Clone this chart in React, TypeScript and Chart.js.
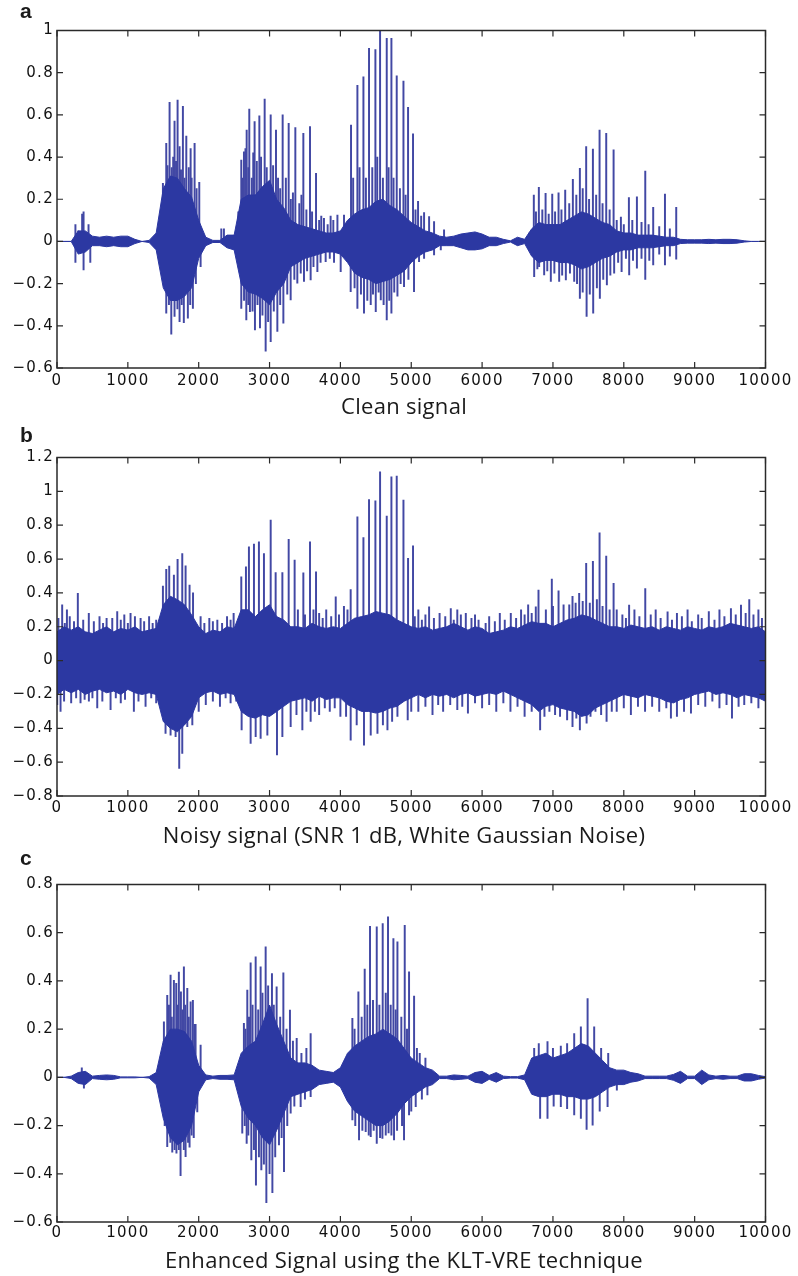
import React, { useEffect, useRef } from "react";
import { Chart, registerables } from "chart.js";

Chart.register(...registerables);

// ---------- shared sample grid (envelope bins, every 100 samples) ----------
const binSamples = [
  0, 100, 200, 300, 400, 500, 600, 700, 800, 900, 1000, 1100, 1200, 1300, 1400, 1500, 1600, 1700, 1800, 1900,
  2000, 2100, 2200, 2300, 2400, 2500, 2600, 2700, 2800, 2900, 3000, 3100, 3200, 3300, 3400, 3500, 3600, 3700, 3800, 3900,
  4000, 4100, 4200, 4300, 4400, 4500, 4600, 4700, 4800, 4900, 5000, 5100, 5200, 5300, 5400, 5500, 5600, 5700, 5800, 5900,
  6000, 6100, 6200, 6300, 6400, 6500, 6600, 6700, 6800, 6900, 7000, 7100, 7200, 7300, 7400, 7500, 7600, 7700, 7800, 7900,
  8000, 8100, 8200, 8300, 8400, 8500, 8600, 8700, 8800, 8900, 9000, 9100, 9200, 9300, 9400, 9500, 9600, 9700, 9800, 9900,
  10000,
];

// ---------- panel a: clean signal ----------
const cleanBodyHi = [
  0, 0, 0, 0.05, 0.05, 0.025, 0.02, 0.025, 0.02, 0.025, 0.025, 0.01, 0, 0.005, 0.04, 0.25, 0.31, 0.3, 0.25, 0.21,
  0.1, 0.02, 0.005, 0.005, 0.03, 0.03, 0.2, 0.22, 0.22, 0.26, 0.29, 0.2, 0.16, 0.1, 0.08, 0.07, 0.06, 0.05, 0.04, 0.04,
  0.05, 0.1, 0.13, 0.15, 0.16, 0.19, 0.2, 0.17, 0.15, 0.12, 0.09, 0.07, 0.05, 0.04, 0.025, 0.02, 0.025, 0.035, 0.04, 0.045,
  0.035, 0.02, 0.02, 0.01, 0.003, 0.02, 0.01, 0.06, 0.09, 0.08, 0.08, 0.08, 0.1, 0.12, 0.14, 0.13, 0.11, 0.09, 0.08, 0.05,
  0.04, 0.04, 0.03, 0.03, 0.03, 0.025, 0.02, 0.02, 0.01, 0.008, 0.008, 0.008, 0.01, 0.008, 0.01, 0.01, 0.008, 0.003, 0, 0,
  0,
];
const cleanBodyLo = [
  0, 0, 0, -0.06, -0.05, -0.02, -0.02, -0.025, -0.02, -0.025, -0.025, -0.01, 0, -0.005, -0.04, -0.22, -0.28, -0.28, -0.26, -0.22,
  -0.08, -0.02, -0.005, -0.005, -0.03, -0.04, -0.2, -0.24, -0.25, -0.27, -0.3, -0.24, -0.2, -0.12, -0.1, -0.08, -0.07, -0.06, -0.05, -0.05,
  -0.06, -0.1, -0.15, -0.17, -0.18, -0.2, -0.19, -0.18, -0.16, -0.14, -0.1, -0.07, -0.05, -0.04, -0.02, -0.02, -0.02, -0.03, -0.04, -0.04,
  -0.035, -0.02, -0.02, -0.01, -0.003, -0.02, -0.01, -0.07, -0.1, -0.09, -0.09, -0.1, -0.1, -0.11, -0.13, -0.12, -0.1, -0.08, -0.07, -0.05,
  -0.04, -0.04, -0.03, -0.03, -0.03, -0.025, -0.02, -0.02, -0.01, -0.008, -0.008, -0.008, -0.01, -0.008, -0.01, -0.01, -0.008, -0.003, 0, 0,
  0,
];
const cleanUpperSpikes: [number, number][] = [
  [260, 0.08], [300, 0.05], [355, 0.13], [375, 0.14], [445, 0.08],
  [1495, 0.275], [1542, 0.465], [1560, 0.36], [1589, 0.66], [1620, 0.35], [1640, 0.4], [1659, 0.57], [1680, 0.38],
  [1702, 0.67], [1730, 0.45], [1750, 0.34], [1777, 0.64], [1800, 0.3], [1825, 0.5], [1860, 0.35], [1886, 0.44],
  [1900, 0.3], [1942, 0.465], [1970, 0.25], [2008, 0.28],
  [2319, 0.06], [2356, 0.06],
  [2559, 0.14], [2601, 0.386], [2620, 0.3], [2639, 0.425], [2660, 0.44], [2677, 0.528], [2700, 0.35], [2714, 0.628],
  [2750, 0.3], [2770, 0.42], [2789, 0.568], [2820, 0.38], [2856, 0.595], [2880, 0.4], [2931, 0.675], [2960, 0.35],
  [3016, 0.6], [3050, 0.36], [3091, 0.528], [3120, 0.3], [3150, 0.25], [3185, 0.6], [3230, 0.3], [3270, 0.56],
  [3300, 0.2], [3330, 0.23], [3364, 0.54], [3420, 0.18], [3450, 0.22], [3477, 0.513], [3520, 0.15], [3571, 0.544],
  [3600, 0.14], [3656, 0.323], [3700, 0.1], [3730, 0.12], [3768, 0.11], [3820, 0.08], [3862, 0.12], [3900, 0.1],
  [3958, 0.125], [4051, 0.125],
  [4150, 0.552], [4180, 0.3], [4240, 0.74], [4270, 0.35], [4325, 0.78], [4360, 0.3], [4404, 0.915], [4450, 0.35],
  [4494, 0.91], [4520, 0.4], [4560, 1.0], [4600, 0.3], [4654, 0.963], [4680, 0.35], [4720, 0.963], [4750, 0.3],
  [4795, 0.785], [4840, 0.25], [4890, 0.76], [4920, 0.22], [4955, 0.636], [5025, 0.51], [5060, 0.15], [5096, 0.19],
  [5140, 0.12], [5181, 0.137], [5252, 0.118], [5322, 0.094], [5463, 0.055],
  [6664, 0.04], [6730, 0.22], [6760, 0.14], [6801, 0.257], [6850, 0.15], [6896, 0.228], [6940, 0.13], [6990, 0.224],
  [7030, 0.14], [7079, 0.231], [7120, 0.15], [7173, 0.244], [7230, 0.18], [7281, 0.295], [7330, 0.22], [7380, 0.347],
  [7420, 0.25], [7469, 0.45], [7510, 0.2], [7564, 0.438], [7610, 0.22], [7658, 0.528], [7700, 0.18], [7752, 0.513],
  [7800, 0.15], [7856, 0.434], [7900, 0.1], [7959, 0.115], [8000, 0.08], [8072, 0.208], [8120, 0.1], [8185, 0.212],
  [8250, 0.09], [8303, 0.334], [8350, 0.08], [8415, 0.162], [8500, 0.07], [8581, 0.224], [8650, 0.06], [8740, 0.162],
];
const cleanLowerSpikes: [number, number][] = [
  [260, -0.1], [375, -0.135], [470, -0.1],
  [1542, -0.34], [1580, -0.3], [1613, -0.44], [1659, -0.356], [1700, -0.32], [1730, -0.38], [1760, -0.3],
  [1790, -0.385], [1847, -0.364], [1880, -0.3], [1918, -0.317], [1960, -0.2], [2027, -0.12],
  [2601, -0.317], [2640, -0.28], [2672, -0.372], [2700, -0.3], [2723, -0.333], [2760, -0.33], [2794, -0.42],
  [2830, -0.3], [2865, -0.41], [2900, -0.35], [2945, -0.52], [2980, -0.38], [3016, -0.475], [3060, -0.33],
  [3110, -0.427], [3150, -0.3], [3195, -0.388], [3250, -0.25], [3298, -0.277], [3350, -0.18], [3392, -0.198],
  [3440, -0.15], [3486, -0.19], [3530, -0.14], [3580, -0.183], [3620, -0.12], [3675, -0.143], [3720, -0.1],
  [3792, -0.096], [3850, -0.08], [3910, -0.1], [4004, -0.143],
  [4145, -0.238], [4200, -0.22], [4240, -0.317], [4290, -0.25], [4333, -0.34], [4380, -0.28], [4428, -0.3],
  [4460, -0.25], [4499, -0.333], [4540, -0.24], [4570, -0.277], [4610, -0.3], [4654, -0.372], [4690, -0.28],
  [4720, -0.34], [4760, -0.24], [4805, -0.26], [4850, -0.2], [4898, -0.214], [4960, -0.18], [5039, -0.238],
  [5110, -0.096], [5181, -0.08], [5322, -0.064], [5417, -0.04],
  [6735, -0.167], [6780, -0.13], [6805, -0.12], [6876, -0.159], [6920, -0.14], [6970, -0.19], [7020, -0.15],
  [7088, -0.19], [7130, -0.16], [7182, -0.183], [7240, -0.15], [7300, -0.19], [7340, -0.2], [7380, -0.27],
  [7420, -0.24], [7475, -0.356], [7520, -0.25], [7568, -0.34], [7620, -0.22], [7662, -0.27], [7710, -0.18],
  [7761, -0.206], [7810, -0.16], [7864, -0.15], [7920, -0.1], [7969, -0.143], [8030, -0.08], [8076, -0.159],
  [8130, -0.09], [8185, -0.127], [8250, -0.08], [8303, -0.18], [8360, -0.09], [8415, -0.111], [8500, -0.06],
  [8581, -0.111], [8650, -0.07], [8740, -0.084],
];

// ---------- panel b: noisy signal ----------
const noisyBodyHi = [
  0.17, 0.2, 0.18, 0.2, 0.17, 0.16, 0.18, 0.2, 0.17, 0.19, 0.18, 0.2, 0.17, 0.18, 0.19, 0.33, 0.38, 0.36, 0.33, 0.27,
  0.2, 0.16, 0.18, 0.17, 0.2, 0.19, 0.3, 0.3, 0.26, 0.3, 0.33, 0.26, 0.24, 0.2, 0.2, 0.19, 0.22, 0.2, 0.19, 0.2,
  0.19, 0.22, 0.25, 0.26, 0.27, 0.29, 0.28, 0.27, 0.24, 0.22, 0.2, 0.19, 0.2, 0.18, 0.19, 0.2, 0.22, 0.2, 0.18, 0.2,
  0.19, 0.16, 0.17, 0.18, 0.2, 0.19, 0.21, 0.23, 0.22, 0.22, 0.2, 0.22, 0.24, 0.25, 0.27, 0.26, 0.24, 0.22, 0.2, 0.2,
  0.19, 0.21, 0.2, 0.19, 0.2, 0.18, 0.2, 0.19, 0.18, 0.2, 0.19, 0.18, 0.2, 0.19, 0.2, 0.22, 0.21, 0.2, 0.19, 0.2,
  0.17,
];
const noisyBodyLo = [
  -0.2, -0.17, -0.19, -0.17, -0.2, -0.18, -0.17, -0.19, -0.18, -0.2, -0.17, -0.19, -0.2, -0.19, -0.2, -0.36, -0.4, -0.42, -0.38, -0.33,
  -0.22, -0.19, -0.18, -0.2, -0.19, -0.2, -0.3, -0.33, -0.34, -0.32, -0.33, -0.3, -0.27, -0.24, -0.23, -0.22, -0.24, -0.21, -0.23, -0.22,
  -0.22, -0.26, -0.28, -0.3, -0.3, -0.31, -0.3, -0.28, -0.27, -0.24, -0.22, -0.2, -0.22, -0.2, -0.21, -0.2, -0.22, -0.2, -0.19, -0.21,
  -0.2, -0.19, -0.2, -0.18, -0.2, -0.22, -0.24, -0.26, -0.3, -0.27, -0.26, -0.28, -0.29, -0.3, -0.33, -0.32, -0.28, -0.26, -0.24, -0.22,
  -0.2, -0.21, -0.22, -0.2, -0.21, -0.22, -0.24, -0.25, -0.23, -0.22, -0.2, -0.19, -0.18, -0.2, -0.19, -0.2, -0.22, -0.2, -0.21, -0.22,
  -0.24,
];
const noisyUpperSpikes: [number, number][] = [
  [20, 0.25], [73, 0.33], [110, 0.22], [140, 0.3], [180, 0.26], [240, 0.23], [294, 0.397], [370, 0.24], [449, 0.28],
  [520, 0.23], [600, 0.26], [650, 0.22], [700, 0.25], [780, 0.25], [850, 0.29], [900, 0.24], [950, 0.27], [1000, 0.22],
  [1038, 0.28], [1100, 0.26], [1180, 0.25], [1230, 0.23], [1300, 0.26], [1350, 0.22], [1400, 0.24],
  [1495, 0.44], [1542, 0.539], [1584, 0.558], [1650, 0.505], [1702, 0.598], [1768, 0.633], [1815, 0.56], [1871, 0.446],
  [1920, 0.4], [2027, 0.26], [2080, 0.22], [2150, 0.25], [2200, 0.23], [2263, 0.24], [2330, 0.22], [2400, 0.26],
  [2450, 0.24], [2493, 0.28], [2550, 0.22],
  [2601, 0.495], [2667, 0.554], [2709, 0.672], [2780, 0.688], [2850, 0.702], [2921, 0.633], [3016, 0.83], [3086, 0.52],
  [3181, 0.52], [3270, 0.716], [3354, 0.594], [3400, 0.3], [3477, 0.519], [3500, 0.27], [3571, 0.702], [3620, 0.3],
  [3656, 0.524], [3700, 0.28], [3750, 0.25], [3800, 0.3], [3870, 0.26], [3934, 0.377], [3980, 0.27], [4050, 0.32],
  [4100, 0.3], [4145, 0.42], [4240, 0.85], [4325, 0.727], [4404, 0.952], [4494, 0.944], [4560, 1.115], [4654, 0.854],
  [4720, 1.086], [4795, 1.09], [4890, 0.948], [4955, 0.604], [5025, 0.678],
  [5050, 0.26], [5100, 0.3], [5150, 0.24], [5200, 0.27], [5252, 0.318], [5320, 0.25], [5400, 0.28], [5480, 0.26],
  [5558, 0.308], [5600, 0.24], [5650, 0.3], [5700, 0.27], [5770, 0.279], [5850, 0.25], [5900, 0.27], [5950, 0.24],
  [6050, 0.22], [6100, 0.26], [6180, 0.23], [6250, 0.28], [6320, 0.24], [6405, 0.279], [6480, 0.25], [6550, 0.3],
  [6600, 0.27], [6650, 0.33], [6700, 0.28], [6758, 0.318],
  [6796, 0.416], [6900, 0.3], [6984, 0.481], [7000, 0.32], [7079, 0.412], [7150, 0.33], [7230, 0.33], [7276, 0.38],
  [7320, 0.34], [7370, 0.397], [7420, 0.35], [7469, 0.574], [7520, 0.34], [7564, 0.587], [7620, 0.36], [7658, 0.755],
  [7700, 0.32], [7752, 0.617], [7800, 0.3], [7856, 0.456], [7900, 0.3], [7980, 0.27], [8030, 0.25], [8075, 0.328],
  [8150, 0.3], [8220, 0.26], [8303, 0.426], [8380, 0.27], [8450, 0.3], [8520, 0.25], [8618, 0.288], [8680, 0.24],
  [8750, 0.28], [8820, 0.26], [8900, 0.3], [8960, 0.23], [9050, 0.27], [9100, 0.25], [9200, 0.29], [9280, 0.24],
  [9350, 0.3], [9420, 0.26], [9512, 0.308], [9580, 0.27], [9654, 0.328], [9720, 0.28], [9771, 0.36], [9830, 0.27],
  [9900, 0.3], [9950, 0.25],
];
const noisyLowerSpikes: [number, number][] = [
  [3, -0.26], [50, -0.3], [100, -0.24], [200, -0.25], [270, -0.22], [332, -0.25], [390, -0.23], [450, -0.24],
  [500, -0.22], [568, -0.28], [640, -0.24], [756, -0.29], [830, -0.22], [900, -0.25], [960, -0.23], [1085, -0.3],
  [1150, -0.24], [1250, -0.27], [1330, -0.22], [1400, -0.25],
  [1532, -0.43], [1603, -0.44], [1674, -0.45], [1725, -0.637], [1768, -0.548], [1839, -0.39], [1910, -0.38],
  [2000, -0.3], [2100, -0.26], [2200, -0.24], [2300, -0.27], [2380, -0.22], [2450, -0.25], [2530, -0.24],
  [2606, -0.41], [2733, -0.49], [2804, -0.45], [2874, -0.46], [2969, -0.44], [3105, -0.558], [3181, -0.45], [3298, -0.39],
  [3380, -0.32], [3463, -0.41], [3520, -0.3], [3580, -0.36], [3640, -0.3], [3700, -0.32], [3780, -0.28], [3850, -0.3],
  [3920, -0.28], [4000, -0.33], [4080, -0.33],
  [4145, -0.47], [4230, -0.38], [4333, -0.5], [4428, -0.44], [4523, -0.43], [4600, -0.38], [4664, -0.41], [4730, -0.36],
  [4805, -0.33], [4950, -0.35], [5000, -0.3],
  [5100, -0.3], [5200, -0.27], [5300, -0.32], [5380, -0.26], [5450, -0.3], [5550, -0.26], [5650, -0.29], [5720, -0.27],
  [5800, -0.31], [5900, -0.25], [6000, -0.28], [6100, -0.26], [6200, -0.3], [6300, -0.25], [6400, -0.3], [6500, -0.27],
  [6600, -0.33], [6700, -0.3], [6819, -0.41], [6880, -0.33], [6950, -0.3], [7030, -0.32], [7100, -0.33], [7200, -0.35],
  [7276, -0.39], [7330, -0.34], [7380, -0.41], [7475, -0.37], [7530, -0.33], [7600, -0.3], [7680, -0.32], [7757, -0.36],
  [7830, -0.3], [7900, -0.3], [8000, -0.28], [8100, -0.32], [8200, -0.27], [8300, -0.3], [8400, -0.27], [8500, -0.3],
  [8600, -0.28], [8665, -0.34], [8750, -0.33], [8850, -0.3], [8948, -0.31], [9050, -0.26], [9150, -0.27], [9250, -0.24],
  [9350, -0.28], [9450, -0.26], [9527, -0.34], [9620, -0.27], [9700, -0.26], [9800, -0.25], [9900, -0.28], [9960, -0.22],
];

// ---------- panel c: enhanced signal ----------
const enhancedBodyHi = [
  0, 0, 0.005, 0.02, 0.025, 0.005, 0.008, 0.01, 0.008, 0.002, 0.002, 0.002, 0, 0.003, 0.02, 0.15, 0.2, 0.2, 0.19, 0.15,
  0.05, 0.01, 0.005, 0.008, 0.008, 0.01, 0.1, 0.13, 0.15, 0.22, 0.3, 0.22, 0.15, 0.08, 0.06, 0.06, 0.05, 0.03, 0.025, 0.02,
  0.04, 0.1, 0.13, 0.15, 0.17, 0.18, 0.2, 0.18, 0.16, 0.12, 0.08, 0.06, 0.04, 0.03, 0.005, 0.005, 0.01, 0.008, 0.005, 0.02,
  0.025, 0.008, 0.02, 0.005, 0.003, 0.003, 0.01, 0.08, 0.09, 0.1, 0.08, 0.09, 0.1, 0.12, 0.14, 0.13, 0.1, 0.07, 0.04, 0.03,
  0.03, 0.02, 0.015, 0.005, 0.005, 0.005, 0.005, 0.012, 0.025, 0.005, 0.005, 0.03, 0.01, 0.005, 0.008, 0.005, 0.005, 0.015, 0.015, 0.008,
  0.003,
];
const enhancedBodyLo = [
  0, 0, -0.005, -0.025, -0.03, -0.005, -0.008, -0.01, -0.008, -0.002, -0.002, -0.002, 0, -0.003, -0.03, -0.17, -0.25, -0.28, -0.26, -0.2,
  -0.06, -0.01, -0.005, -0.008, -0.008, -0.01, -0.12, -0.17, -0.2, -0.25, -0.28, -0.22, -0.15, -0.08, -0.07, -0.06, -0.05, -0.03, -0.025, -0.02,
  -0.04, -0.1, -0.14, -0.16, -0.18, -0.2, -0.2, -0.18, -0.15, -0.11, -0.08, -0.06, -0.04, -0.03, -0.005, -0.005, -0.01, -0.008, -0.005, -0.02,
  -0.025, -0.008, -0.02, -0.005, -0.003, -0.003, -0.01, -0.07, -0.08, -0.08, -0.07, -0.07, -0.08, -0.08, -0.09, -0.09, -0.08, -0.06, -0.04, -0.03,
  -0.03, -0.02, -0.015, -0.005, -0.005, -0.005, -0.005, -0.012, -0.025, -0.005, -0.005, -0.03, -0.01, -0.005, -0.008, -0.005, -0.005, -0.015, -0.015, -0.008,
  -0.003,
];
const enhancedUpperSpikes: [number, number][] = [
  [350, 0.04],
  [1509, 0.23], [1556, 0.34], [1580, 0.3], [1603, 0.424], [1620, 0.25], [1650, 0.403], [1683, 0.39], [1700, 0.3],
  [1720, 0.437], [1749, 0.355], [1770, 0.28], [1791, 0.458], [1810, 0.3], [1839, 0.369], [1860, 0.25], [1886, 0.313],
  [1918, 0.32], [1940, 0.22], [1956, 0.22], [2027, 0.134],
  [2638, 0.224], [2660, 0.2], [2686, 0.362], [2710, 0.25], [2733, 0.475], [2760, 0.3], [2804, 0.5], [2840, 0.28],
  [2874, 0.458], [2900, 0.35], [2945, 0.541], [2980, 0.38], [3034, 0.431], [3060, 0.3], [3100, 0.376], [3150, 0.25],
  [3195, 0.434], [3240, 0.2], [3288, 0.279], [3330, 0.15], [3383, 0.162], [3450, 0.1], [3520, 0.12], [3580, 0.182],
  [4169, 0.245], [4200, 0.2], [4254, 0.355], [4300, 0.25], [4343, 0.449], [4380, 0.3], [4418, 0.627], [4460, 0.32],
  [4513, 0.624], [4550, 0.3], [4597, 0.638], [4640, 0.35], [4672, 0.666], [4710, 0.3], [4748, 0.576], [4780, 0.28],
  [4805, 0.562], [4860, 0.25], [4908, 0.631], [4940, 0.2], [4969, 0.438], [5040, 0.337], [5080, 0.12], [5120, 0.1],
  [5200, 0.08],
  [6735, 0.12], [6800, 0.14], [6923, 0.148], [7000, 0.12], [7111, 0.13], [7200, 0.14], [7300, 0.182], [7394, 0.21],
  [7489, 0.327], [7582, 0.21], [7680, 0.12], [7780, 0.1],
];
const enhancedLowerSpikes: [number, number][] = [
  [380, -0.045],
  [1520, -0.2], [1556, -0.288], [1600, -0.27], [1627, -0.31], [1660, -0.3], [1686, -0.315], [1720, -0.3], [1744, -0.408],
  [1790, -0.3], [1815, -0.329], [1850, -0.27], [1871, -0.29], [1900, -0.24], [1930, -0.25], [1980, -0.143],
  [2615, -0.232], [2650, -0.2], [2677, -0.274], [2700, -0.24], [2743, -0.343], [2780, -0.3], [2808, -0.447],
  [2850, -0.33], [2884, -0.384], [2920, -0.36], [2955, -0.52], [3000, -0.4], [3040, -0.478], [3080, -0.33],
  [3133, -0.28], [3170, -0.25], [3204, -0.391], [3250, -0.2], [3298, -0.149], [3350, -0.12], [3439, -0.122],
  [3500, -0.09], [3580, -0.08],
  [4169, -0.177], [4210, -0.2], [4263, -0.26], [4310, -0.22], [4357, -0.225], [4400, -0.24], [4428, -0.246],
  [4470, -0.22], [4513, -0.274], [4560, -0.25], [4593, -0.253], [4640, -0.24], [4680, -0.23], [4720, -0.24],
  [4757, -0.26], [4800, -0.22], [4870, -0.2], [4898, -0.26], [4969, -0.156], [5000, -0.14], [5063, -0.122],
  [5150, -0.09], [5228, -0.073],
  [6819, -0.17], [6923, -0.17], [7010, -0.12], [7111, -0.122], [7200, -0.13], [7300, -0.156], [7394, -0.17], [7475, -0.216],
  [7560, -0.198], [7660, -0.14], [7771, -0.122], [7902, -0.053],
];

// ---------- titles / axis ranges ----------
const panelLetters = ["a", "b", "c"];
const panelTitles = [
  "Clean signal",
  "Noisy signal (SNR 1 dB, White Gaussian Noise)",
  "Enhanced Signal using the KLT-VRE technique",
];
const yRanges: [number, number][] = [
  [-0.6, 1],
  [-0.8, 1.2],
  [-0.6, 0.8],
];
const xRange: [number, number] = [0, 10000];

const BODY = "rgb(44,56,162)";
const SPIKE = "rgb(66,72,164)";
const INK = "#111";

type PanelSpec = {
  top: number;
  height: number;
  padBottom: number;
  tickPad: number;
  titleOffset: number;
  letterBaseline: number;
  letter: string;
  title: string;
  yMin: number;
  yMax: number;
  hi: number[];
  lo: number[];
  up: [number, number][];
  down: [number, number][];
};

const fmtY = (v: number) => {
  const n = Math.round(Number(v) * 10) / 10;
  if (n === 0) return "0";
  return n < 0 ? "\u2212" + String(-n) : String(n);
};

function Panel({ spec }: { spec: PanelSpec }) {
  const ref = useRef<HTMLCanvasElement>(null);
  useEffect(() => {
    const canvas = ref.current;
    if (!canvas) return;
    const TL = 6;
    const framePlugin = {
      id: "frame",
      beforeDraw(chart: any) {
        try {
          chart.ctx.letterSpacing = "1.3px";
        } catch (e) {}
      },
      beforeDatasetsDraw(chart: any) {
        try {
          chart.ctx.letterSpacing = "0px";
        } catch (e) {}
      },
      afterDraw(chart: any) {
        const { ctx, chartArea, scales } = chart;
        const { left, right, top, bottom } = chartArea;
        const x = scales.x;
        const y = scales.y;
        ctx.save();
        ctx.strokeStyle = "#2a2a2a";
        ctx.lineWidth = 1.2;
        ctx.beginPath();
        for (const t of x.ticks) {
          const px = x.getPixelForValue(t.value);
          ctx.moveTo(px, bottom);
          ctx.lineTo(px, bottom - TL);
          ctx.moveTo(px, top);
          ctx.lineTo(px, top + TL);
        }
        for (const t of y.ticks) {
          const py = y.getPixelForValue(t.value);
          ctx.moveTo(left, py);
          ctx.lineTo(left + TL, py);
          ctx.moveTo(right, py);
          ctx.lineTo(right - TL, py);
        }
        ctx.stroke();
        ctx.lineWidth = 1.5;
        ctx.strokeRect(left, top, right - left, bottom - top);
        try {
          ctx.letterSpacing = "0.3px";
        } catch (e) {}
        ctx.fillStyle = "#1a1a1a";
        ctx.font = '22px "Open Sans", Lato, sans-serif';
        ctx.textAlign = "center";
        ctx.textBaseline = "middle";
        ctx.fillText(spec.title, 404, bottom + spec.titleOffset);
        try {
          ctx.letterSpacing = "0px";
        } catch (e) {}
        ctx.font = 'bold 21px "Liberation Sans", Arial, sans-serif';
        ctx.textAlign = "left";
        ctx.textBaseline = "alphabetic";
        ctx.fillText(spec.letter, 20, spec.letterBaseline);
        ctx.restore();
      },
    };

    const chart = new Chart(canvas, {
      type: "line",
      data: {
        datasets: [
          {
            type: "line",
            data: binSamples.map((s, i) => ({ x: s, y: spec.hi[i] })),
            borderColor: BODY,
            backgroundColor: BODY,
            borderWidth: 1,
            pointRadius: 0,
            tension: 0,
            fill: "+1",
          },
          {
            type: "line",
            data: binSamples.map((s, i) => ({ x: s, y: spec.lo[i] })),
            borderColor: BODY,
            backgroundColor: BODY,
            borderWidth: 1,
            pointRadius: 0,
            tension: 0,
            fill: false,
          },
          {
            type: "bar",
            data: [
              ...spec.up.map(([s, v]) => ({ x: s, y: [0, v] })),
              ...spec.down.map(([s, v]) => ({ x: s, y: [v, 0] })),
            ],
            backgroundColor: SPIKE,
            borderWidth: 0,
            barThickness: 1.3,
            grouped: false,
          } as any,
        ],
      },
      options: {
        animation: false,
        responsive: false,
        events: [],
        layout: { padding: { left: 0, right: 32.5, top: 30.5, bottom: spec.padBottom } },
        plugins: { legend: { display: false }, tooltip: { enabled: false } },
        scales: {
          x: {
            type: "linear",
            min: xRange[0],
            max: xRange[1],
            offset: false,
            grid: { display: false, drawTicks: false },
            border: { display: false },
            ticks: {
              stepSize: 1000,
              autoSkip: false,
              maxRotation: 0,
              padding: spec.tickPad,
              color: INK,
              font: { family: "DejaVu Sans", size: 15 },
              callback: (v: any) => String(v),
            },
            afterFit: (s: any) => {
              s.height = 40;
            },
          },
          y: {
            type: "linear",
            min: spec.yMin,
            max: spec.yMax,
            grid: { display: false, drawTicks: false },
            border: { display: false },
            ticks: {
              stepSize: 0.2,
              padding: 3,
              color: INK,
              font: { family: "DejaVu Sans", size: 15 },
              callback: (v: any) => fmtY(v),
            },
            afterFit: (s: any) => {
              s.width = 57;
            },
          },
        },
      } as any,
      plugins: [framePlugin as any],
    });
    return () => chart.destroy();
  }, [spec]);
  return (
    <canvas
      ref={ref}
      width={798}
      height={spec.height}
      style={{ position: "absolute", left: 0, top: spec.top, width: 798, height: spec.height, display: "block" }}
    />
  );
}

const specs: PanelSpec[] = [
  {
    top: 0, height: 427, padBottom: 19, tickPad: 4.5, titleOffset: 40, letterBaseline: 18,
    letter: panelLetters[0], title: panelTitles[0], yMin: yRanges[0][0], yMax: yRanges[0][1],
    hi: cleanBodyHi, lo: cleanBodyLo, up: cleanUpperSpikes, down: cleanLowerSpikes,
  },
  {
    top: 427, height: 427, padBottom: 18, tickPad: 2.7, titleOffset: 41, letterBaseline: 14.7,
    letter: panelLetters[1], title: panelTitles[1], yMin: yRanges[1][0], yMax: yRanges[1][1],
    hi: noisyBodyHi, lo: noisyBodyLo, up: noisyUpperSpikes, down: noisyLowerSpikes,
  },
  {
    top: 854, height: 422, padBottom: 14, tickPad: 1.7, titleOffset: 39.7, letterBaseline: 11,
    letter: panelLetters[2], title: panelTitles[2], yMin: yRanges[2][0], yMax: yRanges[2][1],
    hi: enhancedBodyHi, lo: enhancedBodyLo, up: enhancedUpperSpikes, down: enhancedLowerSpikes,
  },
];

export default function App() {
  return (
    <div style={{ position: "absolute", left: 0, top: 0, width: 798, height: 1276, background: "#fff", overflow: "hidden" }}>
      {specs.map((s, i) => (
        <Panel key={i} spec={s} />
      ))}
    </div>
  );
}
